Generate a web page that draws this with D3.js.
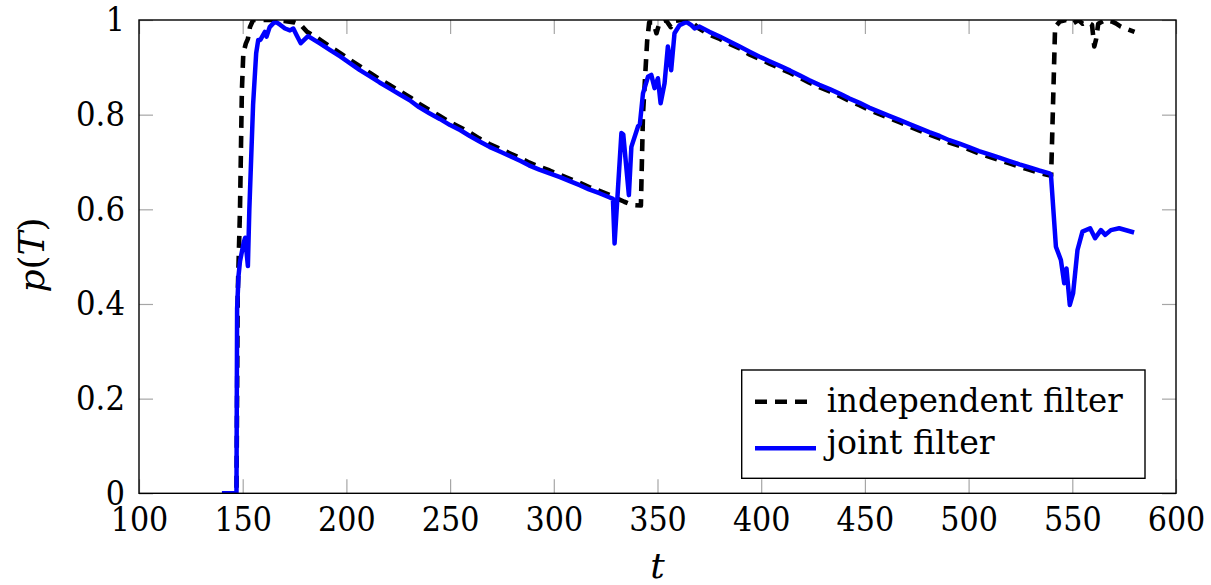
<!DOCTYPE html>
<html>
<head>
<meta charset="utf-8">
<script src="https://cdn.jsdelivr.net/npm/d3@7"></script>
<style>
  html, body { margin: 0; padding: 0; background: #fff; }
  svg { display: block; }
</style>
</head>
<body>
<svg id="chart" width="1211" height="585"></svg>
<script>
// Axis ticks
const xTicks = [100, 150, 200, 250, 300, 350, 400, 450, 500, 550, 600];
const yTicks = [0, 0.2, 0.4, 0.6, 0.8, 1];

// Series labels
const seriesNames = ["independent filter", "joint filter"];

// p(T) of the independent filter, as [t, p] pairs
const independentFilter = [
  [140, 0], [147, 0], [147.6, 0.42], [148.7, 0.6], [149.6, 0.85], [150.3, 0.93],
  [151.5, 0.95], [152.5, 0.96], [153.5, 0.985], [155, 1.0], [160, 1.0], [165, 1.0],
  [170, 0.998], [175, 0.995], [178, 0.99], [181, 0.975], [186, 0.962], [192, 0.944],
  [197, 0.93], [202, 0.915], [207, 0.901], [211, 0.889], [216, 0.875], [221, 0.862],
  [226, 0.849], [231, 0.836], [235, 0.823], [240, 0.81], [245, 0.797], [250, 0.784],
  [255, 0.773], [260, 0.761], [264, 0.75], [269, 0.738], [274, 0.728], [279, 0.718],
  [284, 0.708], [288, 0.699], [293, 0.69], [298, 0.682], [303, 0.673], [308, 0.664],
  [312.5, 0.656], [317, 0.647], [322, 0.639], [327, 0.63], [330, 0.624], [334, 0.616],
  [338, 0.609], [342, 0.608], [343, 0.8], [345, 0.955], [346, 0.995], [348, 0.995],
  [349.5, 0.972], [351, 0.995], [354, 1.0], [356.4, 0.985], [358, 0.998], [362, 1.0],
  [366, 0.998], [370, 0.982], [375, 0.969], [380, 0.96], [385, 0.949], [390, 0.939],
  [394, 0.928], [399, 0.918], [404, 0.908], [409, 0.898], [414, 0.888], [418.5, 0.878],
  [423, 0.868], [428, 0.858], [433, 0.849], [438, 0.839], [442.6, 0.829], [447.4, 0.82],
  [452, 0.81], [457, 0.801], [462, 0.792], [466.6, 0.784], [471.5, 0.775], [476, 0.767],
  [481, 0.758], [486, 0.75], [490.7, 0.741], [495.6, 0.734], [500.4, 0.726], [505, 0.718],
  [510, 0.711], [514.8, 0.704], [519.7, 0.697], [524.5, 0.69], [529, 0.684], [534, 0.677],
  [539.8, 0.671], [541.7, 0.985], [544, 0.997], [547, 1.0], [550, 0.992], [553, 1.0],
  [555, 0.992], [557, 0.996], [559.5, 0.99], [560.6, 0.944], [561.5, 0.96], [562.5, 0.992],
  [566, 1.0], [569, 0.997], [571, 0.993], [573.4, 0.986], [577, 0.98], [580, 0.975]
];

// p(T) of the joint filter, as [t, p] pairs
const jointFilter = [
  [140, 0], [147, 0], [147.3, 0.39], [148, 0.46], [148.7, 0.49], [150.5, 0.53],
  [151.2, 0.54], [152.5, 0.48], [153.2, 0.6], [155, 0.82], [156.5, 0.93], [157.5, 0.958],
  [158.5, 0.958], [160.7, 0.975], [161.5, 0.965], [163, 0.985], [165.6, 0.997], [168, 0.99],
  [170.4, 0.982], [172.8, 0.978], [174.4, 0.982], [176, 0.968], [178, 0.951], [181.5, 0.966],
  [187, 0.951], [192, 0.937], [197, 0.923], [202, 0.908], [206.5, 0.894], [211, 0.882],
  [216, 0.868], [221, 0.855], [226, 0.842], [231, 0.829], [235, 0.816], [240, 0.803],
  [245, 0.791], [250, 0.778], [255, 0.767], [259.5, 0.755], [264, 0.744], [269, 0.732],
  [274, 0.722], [279, 0.712], [284, 0.702], [288, 0.693], [293, 0.684], [298, 0.676],
  [303, 0.668], [308, 0.659], [312.5, 0.651], [317, 0.642], [322, 0.634], [327, 0.625],
  [328.5, 0.622], [329.3, 0.528], [332.6, 0.761], [333.5, 0.758], [336.2, 0.63],
  [337.4, 0.732], [340.6, 0.775], [341.5, 0.78], [343, 0.845], [345.4, 0.88], [347, 0.884],
  [348.6, 0.856], [350.2, 0.877], [351.5, 0.824], [353.4, 0.866], [355, 0.944],
  [356.6, 0.894], [358.2, 0.972], [360.6, 0.989], [363.9, 0.996], [366.3, 0.989],
  [367.9, 0.982], [370.3, 0.986], [375, 0.975], [380, 0.965], [385, 0.954], [389.6, 0.944],
  [394.4, 0.933], [399, 0.923], [404, 0.913], [409, 0.903], [414, 0.893], [418.5, 0.883],
  [423, 0.873], [428, 0.863], [433, 0.854], [438, 0.844], [442.6, 0.834], [447.4, 0.825],
  [452, 0.815], [457, 0.806], [462, 0.797], [466.6, 0.789], [471.5, 0.78], [476, 0.772],
  [481, 0.763], [486, 0.755], [490.7, 0.746], [495.6, 0.739], [500.4, 0.731], [505, 0.723],
  [510, 0.716], [514.8, 0.709], [519.7, 0.702], [524.5, 0.695], [529, 0.689], [534, 0.682],
  [539, 0.676], [539.7, 0.673], [542.1, 0.521], [544.5, 0.493], [546.1, 0.444],
  [547.2, 0.475], [548.8, 0.398], [550.4, 0.423], [552.5, 0.514], [554.9, 0.553],
  [558.6, 0.56], [561, 0.539], [563.8, 0.556], [565.9, 0.546], [568.6, 0.556],
  [572.6, 0.56], [579.8, 0.551]
];

const svg = d3.select("#chart");
const plotLeft = 139, plotRight = 1176, plotTop = 20, plotBottom = 493.3;
const fontSize = 34;
const fontFamily = "'DejaVu Serif', 'Liberation Serif', serif";
const tickLen = 14;

// Advance widths used to keep the wide serif face at the typeset label widths
const digitWidth = 19.2, dotWidth = 10.6;
const labelWidth = s => Array.from(s).reduce((w, c) => w + (c === "." ? dotWidth : digitWidth), 0);

const x = d3.scaleLinear().domain([100, 600]).range([plotLeft, plotRight]);
const y = d3.scaleLinear().domain([0, 1]).range([plotBottom, plotTop]);

// Clip region for the curves
svg.append("defs").append("clipPath").attr("id", "plotClip")
  .append("rect")
  .attr("x", plotLeft).attr("y", plotTop)
  .attr("width", plotRight - plotLeft).attr("height", plotBottom - plotTop);

function setFont(sel) {
  sel.attr("font-family", fontFamily).style("font-family", fontFamily)
     .style("font-size", fontSize + "px").attr("fill", "#000");
}

function styleAxis(g) {
  g.attr("font-family", null).attr("font-size", null);
  g.select(".domain").remove();
  g.selectAll(".tick line").attr("stroke", "#a6a6a6").attr("stroke-width", 1.2);
  g.selectAll(".tick text")
    .call(setFont)
    .each(function () {
      const s = this.textContent;
      if (s) d3.select(this).attr("textLength", labelWidth(s)).attr("lengthAdjust", "spacingAndGlyphs");
    });
}

const fmt = d => String(d);

// Bottom and left axes with inward ticks and labels
svg.append("g")
  .attr("transform", `translate(0,${plotBottom})`)
  .call(d3.axisBottom(x).tickValues(xTicks).tickSize(-tickLen).tickPadding(14).tickFormat(fmt))
  .call(styleAxis);

svg.append("g")
  .attr("transform", `translate(${plotLeft},0)`)
  .call(d3.axisLeft(y).tickValues(yTicks).tickSize(-tickLen).tickPadding(14).tickFormat(fmt))
  .call(styleAxis);

// Mirrored ticks on the top and right edges
svg.append("g")
  .attr("transform", `translate(0,${plotTop})`)
  .call(d3.axisTop(x).tickValues(xTicks).tickSize(-tickLen).tickFormat(""))
  .call(styleAxis);

svg.append("g")
  .attr("transform", `translate(${plotRight},0)`)
  .call(d3.axisRight(y).tickValues(yTicks).tickSize(-tickLen).tickFormat(""))
  .call(styleAxis);

// Curves
const line = d3.line().x(d => x(d[0])).y(d => y(d[1]));
const curves = svg.append("g").attr("clip-path", "url(#plotClip)");

curves.append("path")
  .datum(independentFilter)
  .attr("d", line)
  .attr("fill", "none")
  .attr("stroke", "#000")
  .attr("stroke-width", 4.6)
  .attr("stroke-dasharray", "12,8")
  .attr("stroke-linejoin", "round");

curves.append("path")
  .datum(jointFilter)
  .attr("d", line)
  .attr("fill", "none")
  .attr("stroke", "#0000ff")
  .attr("stroke-width", 4.5)
  .attr("stroke-linejoin", "round");

// Plot frame
svg.append("rect")
  .attr("x", plotLeft).attr("y", plotTop)
  .attr("width", plotRight - plotLeft).attr("height", plotBottom - plotTop)
  .attr("fill", "none").attr("stroke", "#000").attr("stroke-width", 1.4);

// Axis titles
svg.append("text")
  .attr("x", (plotLeft + plotRight) / 2)
  .attr("y", 578)
  .attr("text-anchor", "middle")
  .call(setFont)
  .style("font-size", "36px")
  .style("font-style", "italic")
  .text("t");

const yTitle = svg.append("text")
  .attr("transform", "translate(44,255) rotate(-90)")
  .attr("text-anchor", "middle")
  .call(setFont)
  .style("font-size", "36px");
yTitle.append("tspan").style("font-style", "italic").text("p");
yTitle.append("tspan").text("(");
yTitle.append("tspan").style("font-style", "italic").text("T");
yTitle.append("tspan").text(")");

// Legend
const legend = svg.append("g");
legend.append("rect")
  .attr("x", 741.7).attr("y", 370)
  .attr("width", 403.3).attr("height", 108.3)
  .attr("fill", "#fff").attr("stroke", "#000").attr("stroke-width", 1.4);

legend.append("line")
  .attr("x1", 755).attr("x2", 808).attr("y1", 401.7).attr("y2", 401.7)
  .attr("stroke", "#000").attr("stroke-width", 4.6).attr("stroke-dasharray", "12,8");
legend.append("line")
  .attr("x1", 755).attr("x2", 816).attr("y1", 448.3).attr("y2", 448.3)
  .attr("stroke", "#0000ff").attr("stroke-width", 4.5);

legend.append("text")
  .attr("x", 826.7).attr("y", 412)
  .attr("textLength", 296).attr("lengthAdjust", "spacingAndGlyphs")
  .call(setFont)
  .text(seriesNames[0]);
legend.append("text")
  .attr("x", 826.7).attr("y", 454)
  .attr("textLength", 168).attr("lengthAdjust", "spacingAndGlyphs")
  .call(setFont)
  .text(seriesNames[1]);
</script>
</body>
</html>
